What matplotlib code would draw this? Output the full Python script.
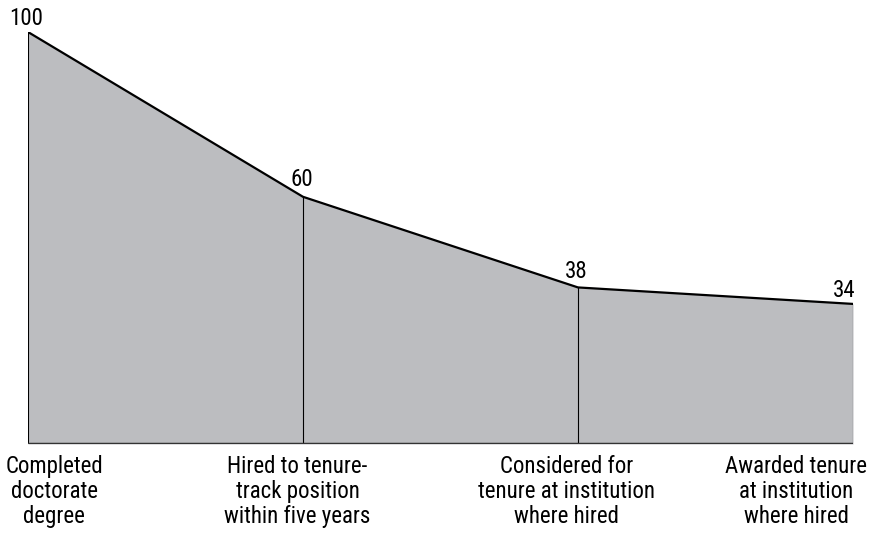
import matplotlib.pyplot as plt
from matplotlib import font_manager

stages = ['Completed\ndoctorate\ndegree',
          'Hired to tenure-\ntrack position\nwithin five years',
          'Considered for\ntenure at institution\nwhere hired',
          'Awarded tenure\nat institution\nwhere hired']
values = [100, 60, 38, 34]
positions = [0, 1, 2, 3]

# condensed face if one is around, otherwise Arial-like Liberation Sans
names = {f.name for f in font_manager.fontManager.ttflist}
family = 'Liberation Sans'
for cand in ['Liberation Sans Narrow', 'Roboto Condensed']:
    if cand in names:
        family = cand
        break
else:
    narrow = sorted(n for n in names if 'Narrow' in n or 'Condensed' in n)
    if narrow:
        family = narrow[0]
plt.rcParams['font.family'] = [family, 'DejaVu Sans']

fig = plt.figure(figsize=(8.7, 5.33), dpi=100)
ax = fig.add_axes([28 / 870, 89 / 533, 825 / 870, 412 / 533])

ax.fill_between(positions, values, 0, color='#bcbdc0', linewidth=0)
ax.plot(positions, values, color='black', linewidth=1.6, solid_joinstyle='miter')
for p, v in zip(positions, values):
    ax.plot([p, p], [0, v], color='black', linewidth=0.8 if p > 0 else 1.5)
ax.axhline(0, color='#333333', linewidth=2.5)

ax.set_xlim(0, 3)
ax.set_ylim(0, 100)
ax.axis('off')

# value labels (dx, dy in points)
offsets = [(-1, 1.5, 'center'), (-1, 4.5, 'center'), (-1, 3, 'center'), (2, 1.5, 'right')]
for p, v, (dx, dy, ha) in zip(positions, values, offsets):
    ax.annotate(str(v), (p, v), xytext=(dx, dy), textcoords='offset points',
                ha=ha, va='bottom', fontsize=16.5)

# stage labels
label_dx = [19, -4, -8, -41]
for p, s, dx in zip(positions, stages, label_dx):
    ax.annotate(s, (p, 0), xytext=(dx, -8), textcoords='offset points',
                ha='center', va='top', fontsize=16.5, linespacing=1.1,
                multialignment='center')

fig.savefig('out.png', dpi=100)
